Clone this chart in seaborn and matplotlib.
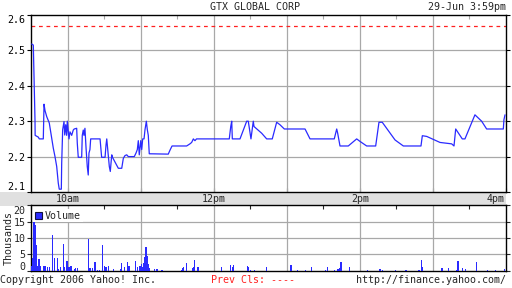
import matplotlib
matplotlib.use("Agg")
import matplotlib.pyplot as plt
from matplotlib.patches import Patch
import seaborn as sns
import numpy as np

# ---------------- data ----------------
# price series: minutes after 9:30 open, price in $
price_minutes = [0.6, 1.9, 2.5, 3.3, 3.4, 6.0, 6.8, 10.1, 10.7, 11.5, 12.9, 15.0, 17.0, 18.3,
                 19.7, 21.1, 22.4, 23.2, 24.9, 25.2, 26.0, 27.1, 27.7, 28.5, 29.3, 29.8, 31.2,
                 32.0, 33.4, 34.7, 35.5, 37.5, 38.0, 38.8, 41.6, 42.1, 42.9, 43.5, 44.3, 45.2,
                 46.2, 47.0, 47.6, 48.4, 49.0, 56.7, 58.0, 60.8, 61.6, 62.2, 63.5, 64.3, 65.1,
                 66.3, 66.9, 71.7, 74.5, 75.8, 77.2, 78.6, 79.9, 84.8, 86.2, 87.3, 88.1, 88.9,
                 90.1, 90.9, 91.7, 92.8, 93.6, 94.7, 95.5, 96.3, 97.1, 112.7, 114.1, 115.8,
                 127.8, 130.5, 131.9, 133.3, 134.6, 135.9, 162.8, 164.0, 164.8, 165.3, 171.6,
                 177.1, 178.4, 180.6, 182.5, 183.1, 189.4, 193.5, 198.1, 201.7, 204.4, 208.0,
                 225.0, 229.1, 249.0, 251.0, 251.8, 253.7, 260.5, 267.4, 270.1, 275.6, 283.0,
                 285.7, 288.4, 298.9, 305.7, 320.2, 321.3, 324.9, 335.8, 345.4, 347.3, 348.7,
                 354.1, 356.3, 364.5, 370.0, 374.1, 387.8, 388.3, 389.2]
price_values = [2.518, 2.515, 2.42, 2.30, 2.26, 2.255, 2.25, 2.25, 2.348, 2.33, 2.313, 2.295,
                2.252, 2.224, 2.20, 2.172, 2.125, 2.108, 2.108, 2.181, 2.276, 2.299, 2.261, 2.29,
                2.26, 2.30, 2.25, 2.27, 2.26, 2.275, 2.278, 2.28, 2.238, 2.198, 2.198, 2.26,
                2.275, 2.26, 2.28, 2.224, 2.172, 2.148, 2.21, 2.22, 2.25, 2.25, 2.198, 2.198,
                2.233, 2.25, 2.20, 2.172, 2.158, 2.205, 2.198, 2.167, 2.167, 2.195, 2.203, 2.205,
                2.20, 2.20, 2.21, 2.22, 2.245, 2.205, 2.245, 2.22, 2.25, 2.25, 2.276, 2.30,
                2.276, 2.26, 2.208, 2.207, 2.218, 2.23, 2.23, 2.236, 2.24, 2.25, 2.245, 2.25,
                2.25, 2.285, 2.30, 2.25, 2.25, 2.30, 2.30, 2.25, 2.30, 2.285, 2.266, 2.25, 2.25,
                2.297, 2.29, 2.278, 2.278, 2.25, 2.25, 2.278, 2.266, 2.23, 2.23, 2.25, 2.243,
                2.23, 2.23, 2.297, 2.297, 2.247, 2.23, 2.23, 2.259, 2.257, 2.24, 2.236, 2.23,
                2.278, 2.25, 2.25, 2.318, 2.30, 2.278, 2.278, 2.304, 2.318]
prev_close = 2.57

# volume: minute after open, thousands of shares
volume_minutes = [0, 1, 2, 3, 4, 5, 6, 7, 10, 11, 13, 15, 17, 19, 21, 22, 24, 26, 27, 29, 30,
                  31, 32, 33, 35, 36, 38, 47, 48, 50, 52, 54, 56, 58, 60, 61, 63, 67, 73, 74,
                  76, 79, 80, 85, 87, 89, 90, 91, 92, 93, 94, 95, 96, 97, 101, 103, 107, 123,
                  124, 125, 127, 132, 133, 134, 136, 137, 156, 163, 165, 166, 177, 178, 180,
                  183, 193, 213, 218, 225, 230, 241, 243, 249, 251, 252, 253, 254, 261, 276,
                  286, 288, 299, 307, 308, 318, 320, 321, 337, 342, 349, 350, 354, 356, 365,
                  374, 381, 388]
volume_k = [1.5, 4.0, 16.3, 14.0, 7.7, 1.5, 3.5, 1.5, 1.5, 1.5, 1.0, 1.2, 11.0, 3.9, 3.9, 0.5,
            1.0, 8.2, 1.0, 3.0, 1.0, 1.2, 1.5, 1.5, 0.5, 0.7, 0.8, 9.6, 0.8, 0.8, 2.6, 0.3, 0.3,
            7.7, 1.5, 1.0, 1.3, 0.5, 0.5, 2.4, 1.0, 2.6, 1.5, 2.9, 1.0, 1.5, 2.0, 1.0, 2.4, 4.1,
            7.2, 4.6, 2.0, 0.7, 0.5, 0.5, 0.3, 0.3, 0.7, 1.2, 2.4, 0.7, 1.2, 3.3, 1.2, 1.2, 1.0,
            1.8, 1.0, 1.8, 1.3, 1.0, 0.3, 0.3, 1.0, 1.8, 0.3, 0.3, 1.2, 0.3, 1.2, 0.3, 0.5, 0.5,
            0.8, 2.6, 1.2, 0.3, 0.5, 0.3, 0.3, 0.3, 0.3, 0.3, 3.2, 1.0, 0.8, 0.8, 0.3, 3.0, 0.8,
            0.5, 2.6, 0.3, 0.3, 0.5]

hour_ticks = [30, 90, 150, 210, 270, 330, 390]
half_ticks = [0, 60, 120, 180, 240, 300, 360]
band_labels = {30: "10am", 150: "12pm", 270: "2pm", 390: "4pm"}
price_ticks = [2.1, 2.2, 2.3, 2.4, 2.5, 2.6]
volume_ticks = [0, 5, 10, 15, 20]

title = "GTX GLOBAL CORP"
stamp = "29-Jun 3:59pm"

# ---------------- style ----------------
sns.set_style("white")
plt.rcParams["font.family"] = ["DejaVu Sans Mono"]
FS = 7.2
BLUE = "#2a2aff"
GRID = "#a8a8a8"

W, H = 512, 288
fig = plt.figure(figsize=(W / 100, H / 100), dpi=100)
fig.patch.set_facecolor("white")

def fx(px):
    return px / W

def fy(py):
    return 1 - py / H

L, R = 31, 506
band = fig.add_axes([0, fy(205.5), fx(R), fy(192) - fy(205.5)])
ax = fig.add_axes([fx(L), fy(192), fx(R - L), fy(15) - fy(192)])
axv = fig.add_axes([fx(L), fy(270.5), fx(R - L), fy(205.5) - fy(270.5)])

# ---- time band ----
band.set_facecolor("#e0e0e0")
band.set_xlim(-L * 390 / (R - L), 390)
band.set_ylim(0, 1)
band.set_xticks([])
band.set_yticks([])
for s in band.spines.values():
    s.set_visible(False)
for t, lab in band_labels.items():
    ha = "right" if t == 390 else "center"
    band.text(t - (1 if t == 390 else 0), 0.45, lab, ha=ha, va="center", fontsize=FS)

# ---- price panel ----
sns.lineplot(x=price_minutes, y=price_values, ax=ax, color=BLUE, lw=0.9,
             estimator=None, sort=False, zorder=3)
ax.axhline(prev_close, color="#ff2020", lw=0.9, ls=(0, (3, 3)), zorder=2)
ax.set_xlim(0, 390)
ax.set_ylim(2.1, 2.6)
ax.set_yticks(price_ticks)
ax.set_yticklabels([f"{v:.1f}" for v in price_ticks], fontsize=FS)
ax.set_xticks(hour_ticks)
ax.set_xticklabels([])
ax.set_xlabel("")
ax.set_ylabel("")
for v in price_ticks[1:-1]:
    ax.axhline(v, color=GRID, lw=0.9, zorder=1)
for t in hour_ticks[:-1]:
    ax.axvline(t, color=GRID, lw=0.9, zorder=1)
ax.tick_params(axis="y", left=True, right=True, direction="out", length=3, width=0.8,
               pad=1, labelsize=FS, colors="black")
ax.tick_params(axis="x", bottom=True, top=False, direction="in", length=3, width=0.8)
ax.set_xticks(half_ticks, minor=True)
ax.tick_params(axis="x", which="minor", top=True, bottom=False, direction="in",
               length=3, width=0.8, color=GRID)
for s in ax.spines.values():
    s.set_color("black")
    s.set_linewidth(1.0)
plabels = ax.get_yticklabels()
plabels[0].set_verticalalignment("bottom")
plabels[-1].set_verticalalignment("top")

# ---- volume panel ----
sns.histplot(x=volume_minutes, weights=volume_k, binwidth=1, binrange=(0, 390), ax=axv,
             color=BLUE, alpha=1, edgecolor=BLUE, linewidth=0, antialiased=False, zorder=3)
axv.set_xlim(0, 390)
axv.set_ylim(0, 20)
axv.set_yticks(volume_ticks)
axv.set_yticklabels([str(v) for v in volume_ticks], fontsize=FS)
axv.set_xticks(half_ticks)
axv.set_xticklabels([])
axv.tick_params(axis="x", top=True, bottom=False, direction="in", length=3, width=0.8)
axv.tick_params(axis="y", left=True, right=True, direction="out", length=3, width=0.8,
                pad=1, labelsize=FS)
axv.set_xlabel("")
axv.set_ylabel("Thousands", fontsize=FS)
axv.yaxis.set_label_coords(-17 / (R - L), 0.5)
for v in volume_ticks[1:-1]:
    axv.axhline(v, color=GRID, lw=0.9, zorder=1)
for t in hour_ticks[:-1]:
    axv.axvline(t, color=GRID, lw=0.9, zorder=1)
for s in axv.spines.values():
    s.set_color("black")
    s.set_linewidth(1.0)
vlabels = axv.get_yticklabels()
vlabels[0].set_verticalalignment("baseline")
vlabels[-1].set_verticalalignment("top")
leg = axv.legend(handles=[Patch(facecolor=BLUE, edgecolor="#101040", linewidth=0.8)],
                 labels=["Volume"], loc="upper left", bbox_to_anchor=(0.0, 0.97),
                 fontsize=FS, handlelength=0.75, handleheight=0.75, handletextpad=0.3,
                 borderpad=0.15, borderaxespad=0.2, frameon=True, framealpha=1,
                 fancybox=False)
leg.get_frame().set_edgecolor("none")
leg.get_frame().set_facecolor("white")
leg.set_zorder(5)

# ---- header / footer text ----
fig.text(fx(255), fy(7), title, ha="center", va="center", fontsize=FS)
fig.text(fx(506), fy(7), stamp, ha="right", va="center", fontsize=FS)
fig.text(fx(0), fy(280), "Copyright 2006 Yahoo! Inc.", ha="left", va="center", fontsize=FS)
fig.text(fx(211), fy(280), "Prev Cls: ----", ha="left", va="center", fontsize=FS,
         color="#ff2020")
fig.text(fx(506), fy(280), "http://finance.yahoo.com/", ha="right", va="center", fontsize=FS)

fig.savefig("out.png", dpi=100, facecolor="white")
